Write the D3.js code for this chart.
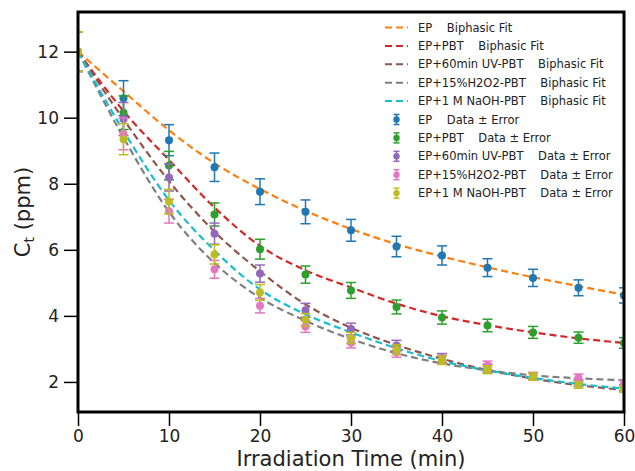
<!DOCTYPE html>
<html>
<head>
<meta charset="utf-8">
<script src="https://cdn.jsdelivr.net/npm/d3@7"></script>
<style>
  body { margin: 0; background: #fff; }
  text { font-family: "DejaVu Sans", sans-serif; }
</style>
</head>
<body>
<div id="chart"></div>
<script>
// irradiation times (min)
var times = [0, 5, 10, 15, 20, 25, 30, 35, 40, 45, 50, 55, 60];

// biphasic fit curves
var fitEP     = [12, 10.80, 9.62, 8.62, 7.84, 7.18, 6.63, 6.17, 5.80, 5.47, 5.17, 4.90, 4.64];
var fitPBT    = [12, 10.20, 8.72, 7.28, 6.12, 5.38, 4.86, 4.37, 3.99, 3.72, 3.50, 3.32, 3.18];
var fitUV     = [12, 9.95, 8.08, 6.55, 5.35, 4.35, 3.64, 3.12, 2.70, 2.36, 2.10, 1.90, 1.76];
var fitH2O2   = [12, 9.40, 7.15, 5.60, 4.55, 3.85, 3.30, 2.87, 2.56, 2.35, 2.20, 2.11, 2.05];
var fitNaOH   = [12, 9.60, 7.50, 5.98, 4.80, 4.05, 3.50, 3.02, 2.63, 2.35, 2.12, 1.94, 1.80];

// measured data and errors
var dataEP    = [12, 10.59, 9.32, 8.50, 7.76, 7.15, 6.59, 6.10, 5.83, 5.46, 5.15, 4.85, 4.62];
var errEP     = [0.60, 0.53, 0.47, 0.43, 0.39, 0.36, 0.33, 0.31, 0.29, 0.27, 0.26, 0.24, 0.23];
var dataPBT   = [12, 10.15, 8.55, 7.07, 6.02, 5.25, 4.77, 4.27, 3.95, 3.71, 3.50, 3.34, 3.18];
var errPBT    = [0.60, 0.51, 0.43, 0.35, 0.30, 0.26, 0.24, 0.21, 0.20, 0.19, 0.18, 0.17, 0.16];
var dataUV    = [12, 9.96, 8.19, 6.49, 5.28, 4.17, 3.60, 3.10, 2.72, 2.42, 2.17, 1.97, 1.82];
var errUV     = [0.60, 0.50, 0.41, 0.32, 0.26, 0.21, 0.18, 0.16, 0.14, 0.12, 0.11, 0.10, 0.09];
var dataH2O2  = [12, 9.51, 7.17, 5.41, 4.31, 3.68, 3.19, 2.90, 2.68, 2.50, 2.18, 2.13, 1.95];
var errH2O2   = [0.60, 0.48, 0.36, 0.27, 0.22, 0.18, 0.16, 0.15, 0.13, 0.13, 0.11, 0.11, 0.10];
var dataNaOH  = [12, 9.35, 7.46, 5.86, 4.71, 3.88, 3.33, 2.98, 2.66, 2.37, 2.16, 1.91, 1.78];
var errNaOH   = [0.60, 0.47, 0.37, 0.29, 0.24, 0.19, 0.17, 0.15, 0.13, 0.12, 0.11, 0.10, 0.09];

var xTicks = [0, 10, 20, 30, 40, 50, 60];
var yTicks = [2, 4, 6, 8, 10, 12];

var fitLabels = ["EP    Biphasic Fit", "EP+PBT    Biphasic Fit", "EP+60min UV-PBT    Biphasic Fit",
                 "EP+15%H2O2-PBT    Biphasic Fit", "EP+1 M NaOH-PBT    Biphasic Fit"];
var dataLabels = ["EP    Data \u00b1 Error", "EP+PBT    Data \u00b1 Error", "EP+60min UV-PBT    Data \u00b1 Error",
                  "EP+15%H2O2-PBT    Data \u00b1 Error", "EP+1 M NaOH-PBT    Data \u00b1 Error"];

var fitColors = ["#ff7f0e", "#d62728", "#8c564b", "#7f7f7f", "#17becf"];
var dataColors = ["#1f77b4", "#2ca02c", "#9467bd", "#e377c2", "#bcbd22"];

var fits = [fitEP, fitPBT, fitUV, fitH2O2, fitNaOH];
var datas = [dataEP, dataPBT, dataUV, dataH2O2, dataNaOH];
var errs = [errEP, errPBT, errUV, errH2O2, errNaOH];

// dimensions
var margin = { top: 12, right: 11, bottom: 59, left: 78 },
    width = 635 - margin.left - margin.right,
    height = 471 - margin.top - margin.bottom;

var svg = d3.select("#chart")
    .append("svg")
    .attr("width", 635)
    .attr("height", 471)
    .append("g")
    .attr("transform", "translate(" + margin.left + "," + margin.top + ")");

var x = d3.scaleLinear().domain([0, 60]).range([0, width]);
var y = d3.scaleLinear().domain([1.09, 13.2]).range([height, 0]);

svg.append("clipPath").attr("id", "clip")
    .append("rect").attr("width", width).attr("height", height);

// axes
var xAxis = svg.append("g")
    .attr("transform", "translate(0," + height + ")")
    .call(d3.axisBottom(x).tickValues(xTicks).tickSize(14).tickPadding(4));
var yAxis = svg.append("g")
    .call(d3.axisLeft(y).tickValues(yTicks).tickSize(14).tickPadding(5));
[xAxis, yAxis].forEach(function (a) {
    a.select(".domain").remove();
    a.selectAll("line").attr("stroke", "#000").attr("stroke-width", 1.5);
    a.selectAll("text").style("font-size", "17px").attr("fill", "#222");
});

var plot = svg.append("g").attr("clip-path", "url(#clip)");

// fit lines
var line = d3.line()
    .x(function (d) { return x(d[0]); })
    .y(function (d) { return y(d[1]); })
    .curve(d3.curveMonotoneX);

fits.forEach(function (f, i) {
    plot.append("path")
        .datum(times.map(function (t, j) { return [t, f[j]]; }))
        .attr("d", line)
        .attr("fill", "none")
        .attr("stroke", fitColors[i])
        .attr("stroke-width", 2.2)
        .attr("stroke-dasharray", "7,4");
});

// data with error bars
datas.forEach(function (dd, i) {
    var g = plot.append("g").attr("stroke", dataColors[i]).attr("fill", dataColors[i]);
    times.forEach(function (t, j) {
        var cx = x(t), top = y(dd[j] + errs[i][j]), bot = y(dd[j] - errs[i][j]);
        g.append("line").attr("x1", cx).attr("x2", cx).attr("y1", top).attr("y2", bot).attr("stroke-width", 1.5);
        g.append("line").attr("x1", cx - 5).attr("x2", cx + 5).attr("y1", top).attr("y2", top).attr("stroke-width", 1.5);
        g.append("line").attr("x1", cx - 5).attr("x2", cx + 5).attr("y1", bot).attr("y2", bot).attr("stroke-width", 1.5);
        g.append("circle").attr("cx", cx).attr("cy", y(dd[j])).attr("r", 4).attr("stroke", "none");
    });
});

// frame
svg.append("rect")
    .attr("width", width).attr("height", height)
    .attr("fill", "none").attr("stroke", "#000").attr("stroke-width", 3);

// axis labels
svg.append("text")
    .attr("text-anchor", "middle")
    .attr("x", width / 2)
    .attr("y", height + 54)
    .style("font-size", "21px")
    .attr("fill", "#222")
    .text("Irradiation Time (min)");

var yl = svg.append("text")
    .attr("text-anchor", "middle")
    .attr("transform", "translate(" + (-48) + "," + (height / 2) + ") rotate(-90)")
    .style("font-size", "21px")
    .attr("fill", "#222");
yl.append("tspan").text("C");
yl.append("tspan").text("t").style("font-size", "14px").attr("dy", 4);
yl.append("tspan").text(" (ppm)").attr("dy", -4);

// legend
var legend = svg.append("g").attr("transform", "translate(" + (385 - margin.left) + "," + (27.5 - margin.top) + ")");
var rowH = 18.4;
fitLabels.forEach(function (lab, i) {
    var r = legend.append("g").attr("transform", "translate(0," + (i * rowH) + ")");
    r.append("line").attr("x1", 0).attr("x2", 23).attr("y1", 0).attr("y2", 0)
        .attr("stroke", fitColors[i]).attr("stroke-width", 2).attr("stroke-dasharray", "7,4");
    r.append("text").attr("x", 33).attr("dy", "0.35em")
        .style("font-size", "11.5px").style("white-space", "pre").attr("fill", "#222").text(lab);
});
dataLabels.forEach(function (lab, i) {
    var r = legend.append("g").attr("transform", "translate(0," + ((i + 5) * rowH) + ")")
        .attr("stroke", dataColors[i]).attr("fill", dataColors[i]);
    r.append("line").attr("x1", 11.5).attr("x2", 11.5).attr("y1", -5).attr("y2", 5).attr("stroke-width", 1.5);
    r.append("line").attr("x1", 8.5).attr("x2", 14.5).attr("y1", -5).attr("y2", -5).attr("stroke-width", 1.5);
    r.append("line").attr("x1", 8.5).attr("x2", 14.5).attr("y1", 5).attr("y2", 5).attr("stroke-width", 1.5);
    r.append("circle").attr("cx", 11.5).attr("cy", 0).attr("r", 3.2).attr("stroke", "none");
    r.append("text").attr("x", 33).attr("dy", "0.35em").attr("stroke", "none")
        .style("font-size", "11.5px").style("white-space", "pre").attr("fill", "#222").text(lab);
});
</script>
</body>
</html>
